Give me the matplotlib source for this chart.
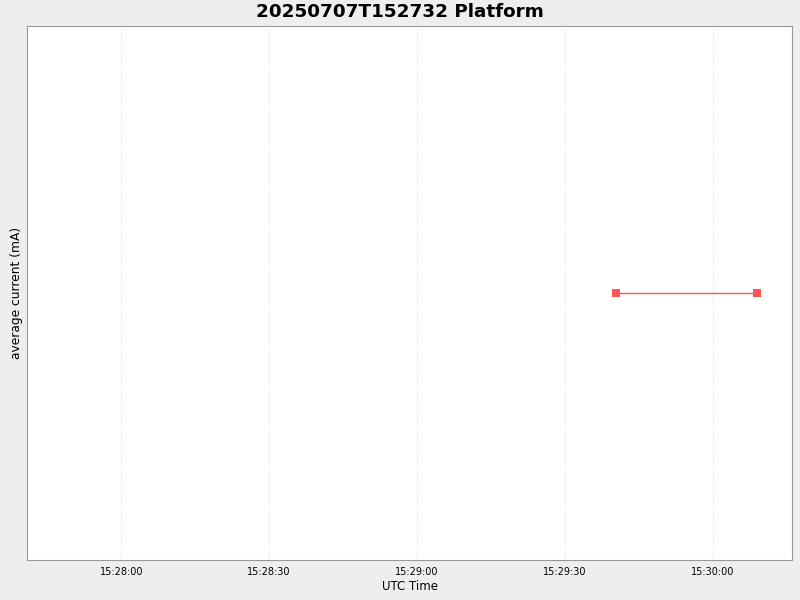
import pandas as pd
import matplotlib
matplotlib.use("Agg")
import matplotlib.pyplot as plt
import matplotlib.dates as mdates

# data
times = pd.to_datetime(["2025-07-07 15:29:40.4", "2025-07-07 15:30:09.0"])
current = [1.0, 1.0]
tick_times = pd.to_datetime(["2025-07-07 15:28:00", "2025-07-07 15:28:30",
                             "2025-07-07 15:29:00", "2025-07-07 15:29:30",
                             "2025-07-07 15:30:00"])
x_start = pd.Timestamp("2025-07-07 15:27:40.9")
x_end = pd.Timestamp("2025-07-07 15:30:16")

fig = plt.figure(figsize=(8, 6), dpi=100, facecolor="#eeeeee")
ax = fig.add_axes([27 / 800, 40 / 600, 765 / 800, 534 / 600])
ax.set_facecolor("white")

ax.plot(times, current, color="#ff5555", linewidth=1, marker="s",
        markersize=6, markeredgewidth=0)

ax.set_xlim(x_start, x_end)
ax.set_ylim(0.5, 1.5)
ax.set_xticks(tick_times)
ax.xaxis.set_major_formatter(mdates.DateFormatter("%H:%M:%S"))
ax.tick_params(axis="x", length=0, labelsize=7, pad=5)
ax.set_yticks([])
ax.grid(True, axis="x", color="#e2e2e2", linestyle=(0, (2, 2)), linewidth=0.6)

for spine in ax.spines.values():
    spine.set_color("#999999")

ax.set_xlabel("UTC Time", fontsize=8.5, labelpad=2)
ax.set_ylabel("average current (mA)", fontsize=8.8, labelpad=3)
fig.suptitle("20250707T152732 Platform", fontsize=13.2, fontweight="bold", y=0.995)

fig.savefig("out.png", dpi=100, facecolor=fig.get_facecolor())
